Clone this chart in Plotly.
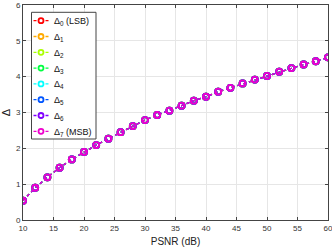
import plotly.graph_objects as go

psnr = [10, 12, 14, 16, 18, 20, 22, 24, 26, 28, 30, 32, 34, 36, 38, 40, 42, 44, 46, 48, 50, 52, 54, 56, 58, 60]
delta = [0.54, 0.90, 1.19, 1.46, 1.69, 1.90, 2.09, 2.27, 2.45, 2.62, 2.79, 2.93, 3.05, 3.19, 3.33, 3.44,
         3.58, 3.69, 3.81, 3.92, 4.02, 4.14, 4.24, 4.34, 4.43, 4.54]
names = ["Δ<sub>0</sub> (LSB)", "Δ<sub>1</sub>", "Δ<sub>2</sub>", "Δ<sub>3</sub>",
         "Δ<sub>4</sub>", "Δ<sub>5</sub>", "Δ<sub>6</sub>", "Δ<sub>7</sub> (MSB)"]
colors = ["#ff0000", "#ffaa00", "#aaff00", "#00ff40", "#00ffff", "#0055ff", "#8000ff", "#ee00cc"]

W, H = 332, 249
ML, MR, MT, MB = 23, 4, 5, 29
PW, PH = W - ML - MR, H - MT - MB

fig = go.Figure()
for n, c in zip(names, colors):
    fig.add_trace(go.Scatter(
        x=psnr, y=delta, name=n, mode="lines+markers", showlegend=False,
        line=dict(color=c, width=1.3, dash="dot"),
        marker=dict(symbol="circle-open", size=6, color=c, line=dict(width=1.8, color=c)),
    ))

# compact legend (MATLAB-like) drawn in paper coordinates
def px(xp):
    return (xp - ML) / PW

def py(yp):
    return 1 - (yp - MT) / PH

shapes = [dict(type="rect", xref="paper", yref="paper",
               x0=px(31.5), x1=px(96), y0=py(12.3), y1=py(139),
               line=dict(color="#444", width=1), fillcolor="white", layer="above")]
annotations = []
for i, (n, c) in enumerate(zip(names, colors)):
    yc = 20.7 + 15.8 * i
    shapes.append(dict(type="line", xref="paper", yref="paper",
                       x0=px(33.5), x1=px(48.5), y0=py(yc), y1=py(yc),
                       line=dict(color=c, width=1.3, dash="dot"), layer="above"))
    shapes.append(dict(type="circle", xref="paper", yref="paper",
                       xsizemode="pixel", ysizemode="pixel",
                       xanchor=px(41), yanchor=py(yc),
                       x0=-2.5, x1=2.5, y0=-2.5, y1=2.5,
                       line=dict(color=c, width=1.8), fillcolor="white", layer="above"))
    annotations.append(dict(xref="paper", yref="paper", x=px(52), y=py(yc + 1),
                            text=n, showarrow=False, xanchor="left", yanchor="middle",
                            font=dict(family="Liberation Sans, Arial", size=9, color="#111")))

axis_common = dict(
    showline=True, linecolor="#444", linewidth=1, mirror="ticks",
    ticks="inside", ticklen=3, tickcolor="#444", automargin=False,
    ticklabeloverflow="allow",
    showgrid=True, gridcolor="#e6e6e6", gridwidth=1, zeroline=False,
    tickfont=dict(family="Liberation Sans, Arial", size=8, color="#333"),
)
fig.update_xaxes(range=[10, 60], dtick=5, title=dict(text="PSNR (dB)", standoff=6,
                 font=dict(family="Liberation Sans, Arial", size=10, color="#222")), **axis_common)
fig.update_yaxes(range=[0, 6], dtick=1, title=dict(text="Δ", standoff=6,
                 font=dict(family="Liberation Sans, Arial", size=11, color="#222")), **axis_common)

fig.update_layout(
    width=W, height=H,
    margin=dict(l=ML, r=MR, t=MT, b=MB, autoexpand=False),
    plot_bgcolor="white", paper_bgcolor="white",
    shapes=shapes, annotations=annotations,
    showlegend=False,
)
fig.write_html("out.html", config={"displayModeBar": False},
               post_script="document.body.style.margin='0';")
